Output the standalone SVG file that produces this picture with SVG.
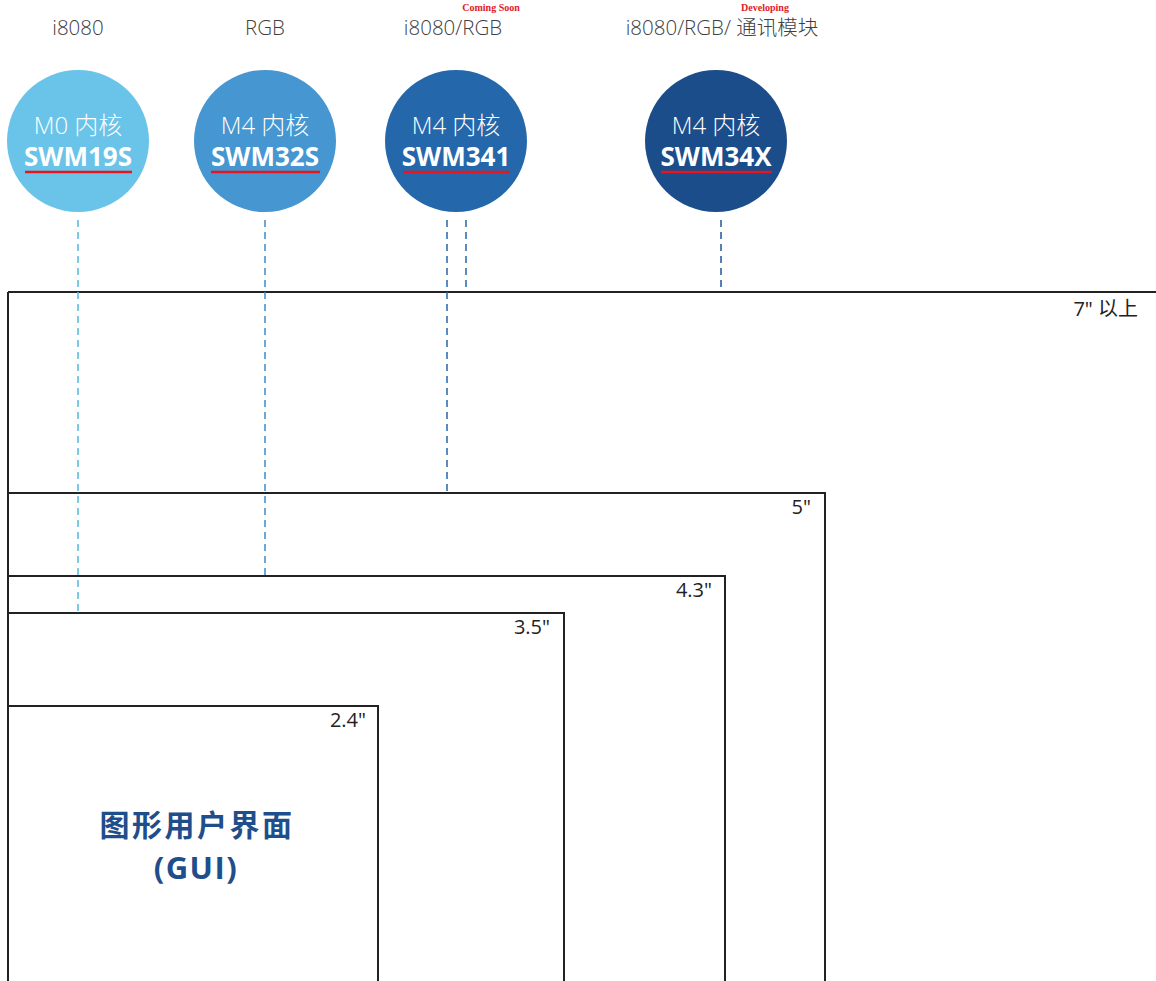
<svg xmlns="http://www.w3.org/2000/svg" width="1156" height="981" viewBox="0 0 1156 981">
<style>
.top{font-family:"Open Sans","Noto Sans CJK SC",sans-serif;font-size:20.5px;font-weight:300;fill:#404040;text-anchor:middle}
.tag{font-family:"Liberation Serif",serif;font-size:10px;font-weight:bold;fill:#e0202a;text-anchor:middle}
.core{font-family:"Open Sans","Noto Sans CJK SC",sans-serif;font-size:24px;font-weight:300;fill:#fff;text-anchor:middle}
.chip{font-family:"Open Sans",sans-serif;font-size:26px;font-weight:bold;fill:#fff;text-anchor:middle}
.ul{stroke:#e8141e;stroke-width:2.5}
.frame{fill:none;stroke:#222;stroke-width:2}
.size{font-family:"Open Sans","Noto Sans CJK SC",sans-serif;font-size:20px;fill:#222;text-anchor:end}
.gui{font-family:"Noto Sans CJK SC",sans-serif;font-size:30px;font-weight:bold;fill:#1f4e8c;text-anchor:middle;letter-spacing:2.5px}
.gui2{font-family:"Open Sans",sans-serif;font-size:31px;font-weight:bold;fill:#1f4e8c;text-anchor:middle;letter-spacing:1.5px}
.dash{fill:none;stroke-width:1.5;stroke-dasharray:7,5}
</style>
<rect width="1156" height="981" fill="#fff"/>
<g id="frames">
<path class="frame" d="M8,292 H1160 M8,292 V985"/>
<path class="frame" d="M8,493 H825 V985"/>
<path class="frame" d="M8,576 H725 V985"/>
<path class="frame" d="M8,613 H564 V985"/>
<path class="frame" d="M8,706 H378 V985"/>
<text class="size" x="1138" y="316">7" 以上</text>
<text class="size" x="811" y="514">5"</text>
<text class="size" x="712" y="597">4.3"</text>
<text class="size" x="550" y="634">3.5"</text>
<text class="size" x="366" y="727">2.4"</text>
</g>
<g id="connectors">
<line class="dash" x1="78" y1="220" x2="78" y2="612" stroke="#5bb8e0"/>
<line class="dash" x1="265" y1="220" x2="265" y2="575" stroke="#3d8ac8"/>
<line class="dash" x1="447" y1="220" x2="447" y2="492" stroke="#2565a8"/>
<line class="dash" x1="466" y1="220" x2="466" y2="291" stroke="#2565a8"/>
<line class="dash" x1="721" y1="220" x2="721" y2="291" stroke="#1f559a"/>
</g>
<g id="swm19s">
<text class="top" x="78" y="35">i8080</text>
<circle cx="78" cy="141" r="71" fill="#6ac3e8"/>
<text class="core" x="78" y="134">M0 内核</text>
<text class="chip" x="78" y="166">SWM19S</text>
<line class="ul" x1="25" y1="172" x2="132" y2="172"/>
</g>
<g id="swm32s">
<text class="top" x="265" y="35">RGB</text>
<circle cx="265" cy="141" r="71" fill="#4596d1"/>
<text class="core" x="265" y="134">M4 内核</text>
<text class="chip" x="265" y="166">SWM32S</text>
<line class="ul" x1="211" y1="172" x2="320" y2="172"/>
</g>
<g id="swm341">
<text class="top" x="453" y="35">i8080/RGB</text>
<text class="tag" x="491" y="11">Coming Soon</text>
<circle cx="456" cy="141" r="71" fill="#2468ab"/>
<text class="core" x="456" y="134">M4 内核</text>
<text class="chip" x="456" y="166">SWM341</text>
<line class="ul" x1="403" y1="172" x2="510" y2="172"/>
</g>
<g id="swm34x">
<text class="top" x="722" y="35">i8080/RGB/ 通讯模块</text>
<text class="tag" x="765" y="11">Developing</text>
<circle cx="716" cy="141" r="71" fill="#1b4d8a"/>
<text class="core" x="716" y="134">M4 内核</text>
<text class="chip" x="716" y="166">SWM34X</text>
<line class="ul" x1="661" y1="172" x2="772" y2="172"/>
</g>
<g id="gui">
<text class="gui" x="197" y="836">图形用户界面</text>
<text class="gui2" x="196" y="879">(GUI)</text>
</g>
</svg>
